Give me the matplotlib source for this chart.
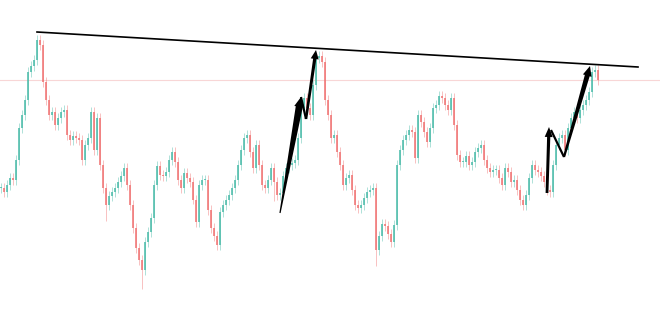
import numpy as np
import matplotlib
matplotlib.use("Agg")
import matplotlib.pyplot as plt

# closing prices, one candle every 3 px
closes = [
    141, 137, 144, 151, 149, 169, 201, 214, 229, 257, 263, 269, 289, 284, 247, 229,
    214, 217, 204, 211, 217, 219, 194, 189, 193, 191, 189, 169, 184, 191, 217, 179,
    211, 164, 141, 124, 133,
    137, 141, 147, 153, 161, 144, 124, 101, 81, 69, 59, 87, 97, 111, 144, 163,
    154, 153, 157, 169, 177, 167, 149, 141, 156, 151, 147, 129, 107, 144, 149, 149,
    119, 101, 93, 84, 117, 124, 129, 134, 141, 149, 164, 179, 191, 194, 177, 161,
    184, 164, 144, 141, 149, 161, 147, 134, 136, 153, 161, 164, 166, 169, 191, 219,
    231, 221, 214, 244, 271, 273, 267, 229, 214, 191, 194, 177, 164, 144, 151, 154,
    139, 124, 121, 124, 131, 137, 139, 141, 79, 93, 105, 103, 95, 87, 104, 164,
    179, 189, 194, 199, 197, 171, 214, 207, 197, 187, 201, 221, 224, 233, 231, 224,
    219, 231, 204, 174, 167, 167, 173, 164, 167, 177, 181, 184, 169, 161, 157, 159,
    159, 151, 144, 161, 157, 147, 149, 139, 129, 124, 134, 151, 164, 159, 157, 153,
    147, 139, 137, 164, 184, 191, 194, 179, 201, 211, 217, 211, 219, 224, 229, 237,
    257, 259, 249,
]
# a few candles with long lower wicks (index -> low)
long_lows = {47: 40, 125: 63, 35: 108, 64: 125, 91: 128}
candle_step = 3
wick_pad = 5

# resistance line and the two zig-zag arrow paths
trend_x = [37, 638]
trend_y = [297, 262]
price_line = 249
zig1 = [(280, 116), (301, 232), (306, 210), (316, 279)]
zig2 = [(547, 136), (549, 202), (551, 199), (564, 172), (590, 263)]

up_col = "#4cbcaa"
down_col = "#f07474"

fig = plt.figure(figsize=(6.6, 3.29), dpi=100)
ax = fig.add_axes([0, 0, 1, 1])
ax.set_xlim(0, 660)
ax.set_ylim(0, 329)
ax.axis("off")

ax.axhline(price_line, color="#f8d6d6", lw=0.8, zorder=1)

c = np.array(closes, dtype=float)
o = np.r_[c[0], c[:-1]]
x = np.arange(len(c)) * candle_step + 1
up = c >= o
cols = np.where(up, up_col, down_col)
lo = np.minimum(o, c)
hi = np.maximum(o, c)
h = np.maximum(hi - lo, 1)
wlo = lo - wick_pad
for i, v in long_lows.items():
    wlo[i] = v

ax.vlines(x, wlo, hi + wick_pad, colors=cols, lw=0.7, alpha=0.45, zorder=2)
ax.bar(x, h, bottom=lo, width=1.8, color=cols, alpha=0.8, lw=0, zorder=3)

ax.plot(trend_x, trend_y, color="black", lw=1.2, zorder=5)


def arrow(a, b, w0=2.0, w1=2.0, hw=9.0, hl=11.0, head=True):
    # tapered shaft + triangular head, widths in data units (1 unit = 1 px)
    a = np.array(a, float)
    b = np.array(b, float)
    d = b - a
    L = np.hypot(*d)
    u = d / L
    n = np.array([-u[1], u[0]])
    base = b - u * hl if head else b
    pts = [a + n * w0 / 2, base + n * w1 / 2]
    if head:
        pts += [base + n * hw / 2, b, base - n * hw / 2]
    pts += [base - n * w1 / 2, a - n * w0 / 2]
    pts = np.array(pts)
    ax.fill(pts[:, 0], pts[:, 1], color="black", lw=0, zorder=6)


arrow(zig1[0], zig1[1], w0=1.2, w1=7.0, hw=10, hl=10)
arrow(zig1[1], zig1[2], w0=2.2, w1=2.2, head=False)
arrow(zig1[2], zig1[3], w0=2.5, w1=3.2, hw=8, hl=9)

arrow(zig2[0], zig2[1], w0=2.8, w1=3.2, hw=8, hl=10)
arrow(zig2[2], zig2[3], w0=2.2, w1=2.2, head=False)
arrow(zig2[3], zig2[4], w0=2.2, w1=5.0, hw=9, hl=10)

fig.savefig("out.png", dpi=100)
